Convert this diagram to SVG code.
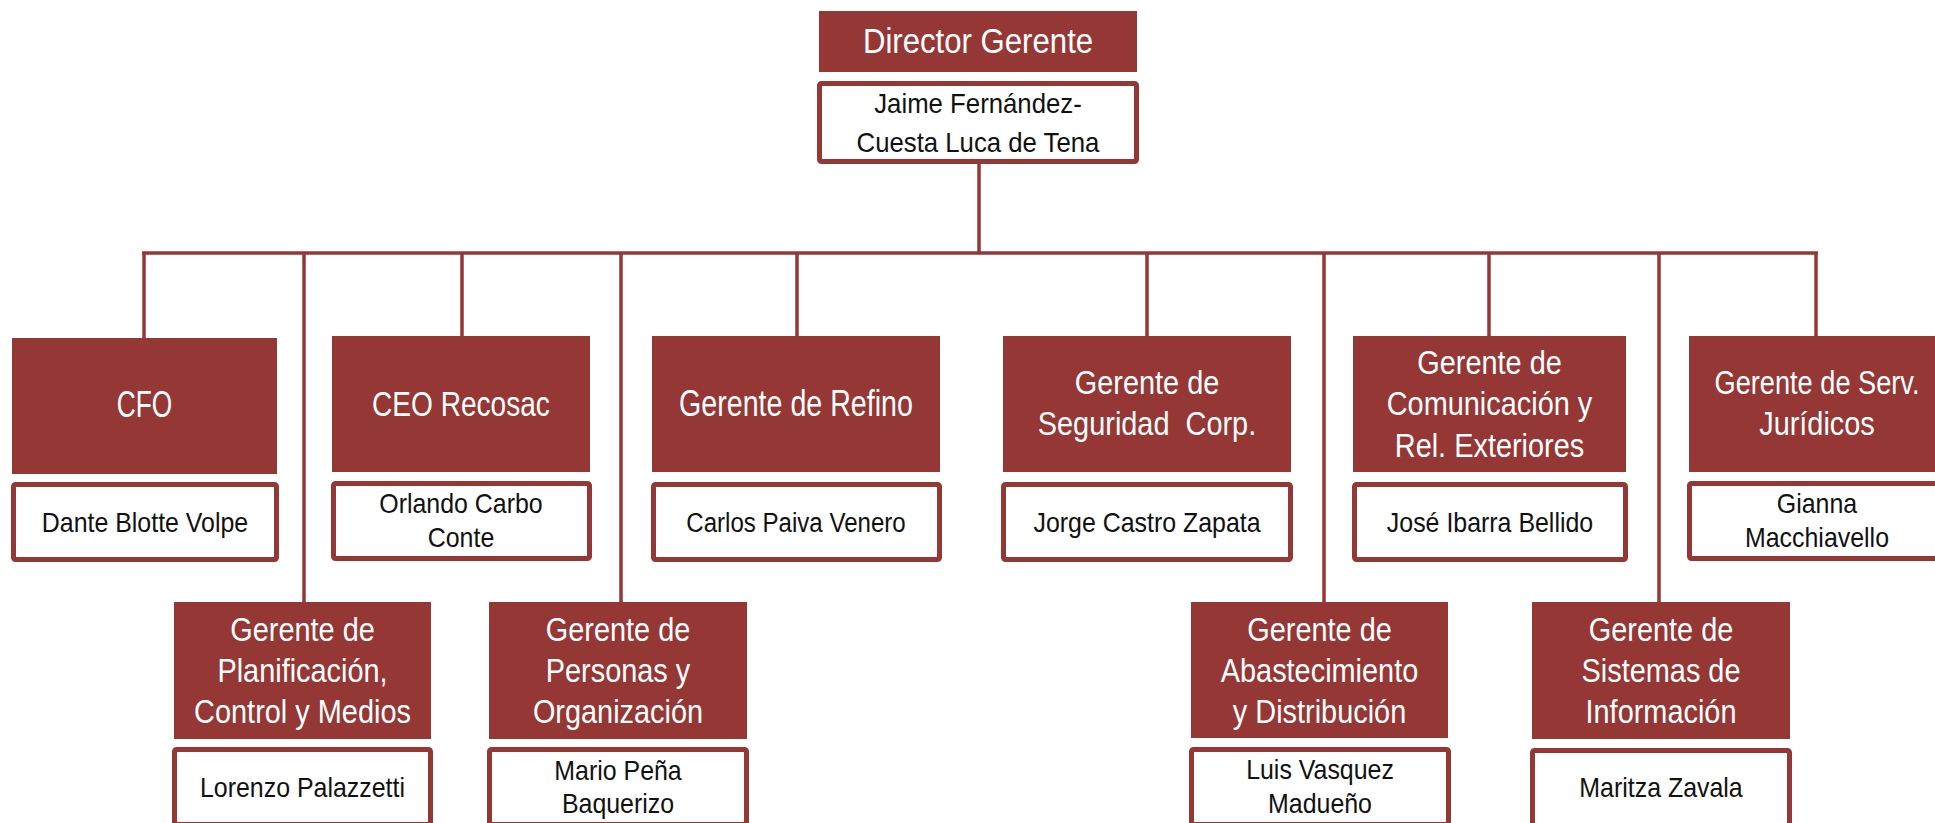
<svg xmlns="http://www.w3.org/2000/svg" width="1935" height="823" viewBox="0 0 1935 823">
<style>
.hd{fill:#953735}
.nm{fill:#ffffff;stroke:#953735;stroke-width:5}
.ht{font-family:"Liberation Sans",Arial,sans-serif;font-size:34px;fill:#ffffff;text-anchor:middle}
.nt{font-family:"Liberation Sans",Arial,sans-serif;font-size:28px;fill:#111111;text-anchor:middle}
.cn{stroke:#953735;stroke-width:3.5;fill:none}
</style>
<rect width="1935" height="823" fill="#ffffff"/>
<g id="connectors">
<line class="cn" x1="979" y1="162" x2="979" y2="253"/>
<line class="cn" x1="142" y1="253" x2="1818" y2="253"/>
<line class="cn" x1="144" y1="253" x2="144" y2="338"/>
<line class="cn" x1="304" y1="253" x2="304" y2="602"/>
<line class="cn" x1="462" y1="253" x2="462" y2="336"/>
<line class="cn" x1="621" y1="253" x2="621" y2="602"/>
<line class="cn" x1="797" y1="253" x2="797" y2="336"/>
<line class="cn" x1="1147" y1="253" x2="1147" y2="336"/>
<line class="cn" x1="1324" y1="253" x2="1324" y2="602"/>
<line class="cn" x1="1489" y1="253" x2="1489" y2="336"/>
<line class="cn" x1="1659" y1="253" x2="1659" y2="602"/>
<line class="cn" x1="1816" y1="253" x2="1816" y2="336"/>
</g>
<g id="director">
<rect class="hd" x="819" y="11" width="318" height="61"/>
<text class="ht" transform="translate(978,53) scale(0.89,1)" style="font-size:35px">Director Gerente</text>
<rect class="nm" x="819.5" y="83.5" width="317" height="78" rx="2"/>
<text class="nt" transform="translate(978,113) scale(0.92,1)">Jaime Fernández-</text>
<text class="nt" transform="translate(978,152) scale(0.92,1)">Cuesta Luca de Tena</text>
</g>
<g id="cfo">
<rect class="hd" x="12" y="338" width="265" height="136"/>
<text class="ht" transform="translate(144.5,417) scale(0.73,1)" style="font-size:36px">CFO</text>
<rect class="nm" x="13.5" y="484.5" width="263" height="75" rx="2"/>
<text class="nt" transform="translate(145,532) scale(0.89,1)">Dante Blotte Volpe</text>
</g>
<g id="ceo">
<rect class="hd" x="332" y="336" width="258" height="136"/>
<text class="ht" transform="translate(461,416) scale(0.78,1)" style="font-size:36px">CEO Recosac</text>
<rect class="nm" x="333.5" y="483.5" width="256" height="75" rx="2"/>
<text class="nt" transform="translate(461,513) scale(0.89,1)">Orlando Carbo</text>
<text class="nt" transform="translate(461,547) scale(0.89,1)">Conte</text>
</g>
<g id="refino">
<rect class="hd" x="652" y="336" width="288" height="136"/>
<text class="ht" transform="translate(796,416) scale(0.795,1)" style="font-size:36px">Gerente de Refino</text>
<rect class="nm" x="653.5" y="484.5" width="286" height="75" rx="2"/>
<text class="nt" transform="translate(796,532) scale(0.86,1)">Carlos Paiva Venero</text>
</g>
<g id="seguridad">
<rect class="hd" x="1003" y="336" width="288" height="136"/>
<text class="ht" transform="translate(1147,394) scale(0.85,1)">Gerente de</text>
<text class="ht" transform="translate(1147,435) scale(0.85,1)" xml:space="preserve">Seguridad  Corp.</text>
<rect class="nm" x="1003.5" y="484.5" width="287" height="75" rx="2"/>
<text class="nt" transform="translate(1147,532) scale(0.89,1)">Jorge Castro Zapata</text>
</g>
<g id="comunicacion">
<rect class="hd" x="1353" y="336" width="273" height="136"/>
<text class="ht" transform="translate(1489.5,374) scale(0.85,1)">Gerente de</text>
<text class="ht" transform="translate(1489.5,415) scale(0.85,1)">Comunicación y</text>
<text class="ht" transform="translate(1489.5,457) scale(0.85,1)">Rel. Exteriores</text>
<rect class="nm" x="1354.5" y="484.5" width="271" height="75" rx="2"/>
<text class="nt" transform="translate(1490,532) scale(0.89,1)">José Ibarra Bellido</text>
</g>
<g id="juridicos">
<rect class="hd" x="1689" y="336" width="256" height="136"/>
<text class="ht" transform="translate(1817,394) scale(0.8,1)">Gerente de Serv.</text>
<text class="ht" transform="translate(1817,435) scale(0.85,1)">Jurídicos</text>
<rect class="nm" x="1689.5" y="483.5" width="256" height="75" rx="2"/>
<text class="nt" transform="translate(1817,513) scale(0.89,1)">Gianna</text>
<text class="nt" transform="translate(1817,547) scale(0.89,1)">Macchiavello</text>
</g>
<g id="planificacion">
<rect class="hd" x="174" y="602" width="257" height="137"/>
<text class="ht" transform="translate(302.5,641) scale(0.85,1)">Gerente de</text>
<text class="ht" transform="translate(302.5,682) scale(0.85,1)">Planificación,</text>
<text class="ht" transform="translate(302.5,723) scale(0.85,1)">Control y Medios</text>
<rect class="nm" x="174.5" y="749.5" width="256" height="75" rx="2"/>
<text class="nt" transform="translate(302.5,797) scale(0.89,1)">Lorenzo Palazzetti</text>
</g>
<g id="personas">
<rect class="hd" x="489" y="602" width="258" height="137"/>
<text class="ht" transform="translate(618,641) scale(0.85,1)">Gerente de</text>
<text class="ht" transform="translate(618,682) scale(0.85,1)">Personas y</text>
<text class="ht" transform="translate(618,723) scale(0.85,1)">Organización</text>
<rect class="nm" x="489.5" y="749.5" width="257" height="75" rx="2"/>
<text class="nt" transform="translate(618,780) scale(0.89,1)">Mario Peña</text>
<text class="nt" transform="translate(618,813) scale(0.89,1)">Baquerizo</text>
</g>
<g id="abastecimiento">
<rect class="hd" x="1191" y="602" width="257" height="136"/>
<text class="ht" transform="translate(1319.5,641) scale(0.85,1)">Gerente de</text>
<text class="ht" transform="translate(1319.5,682) scale(0.85,1)">Abastecimiento</text>
<text class="ht" transform="translate(1319.5,723) scale(0.85,1)">y Distribución</text>
<rect class="nm" x="1191.5" y="749.5" width="257" height="75" rx="2"/>
<text class="nt" transform="translate(1320,779) scale(0.89,1)">Luis Vasquez</text>
<text class="nt" transform="translate(1320,813) scale(0.89,1)">Madueño</text>
</g>
<g id="sistemas">
<rect class="hd" x="1532" y="602" width="258" height="137"/>
<text class="ht" transform="translate(1661,641) scale(0.85,1)">Gerente de</text>
<text class="ht" transform="translate(1661,682) scale(0.85,1)">Sistemas de</text>
<text class="ht" transform="translate(1661,723) scale(0.85,1)">Información</text>
<rect class="nm" x="1532.5" y="750.5" width="257" height="75" rx="2"/>
<text class="nt" transform="translate(1661,797) scale(0.89,1)">Maritza Zavala</text>
</g>
</svg>
